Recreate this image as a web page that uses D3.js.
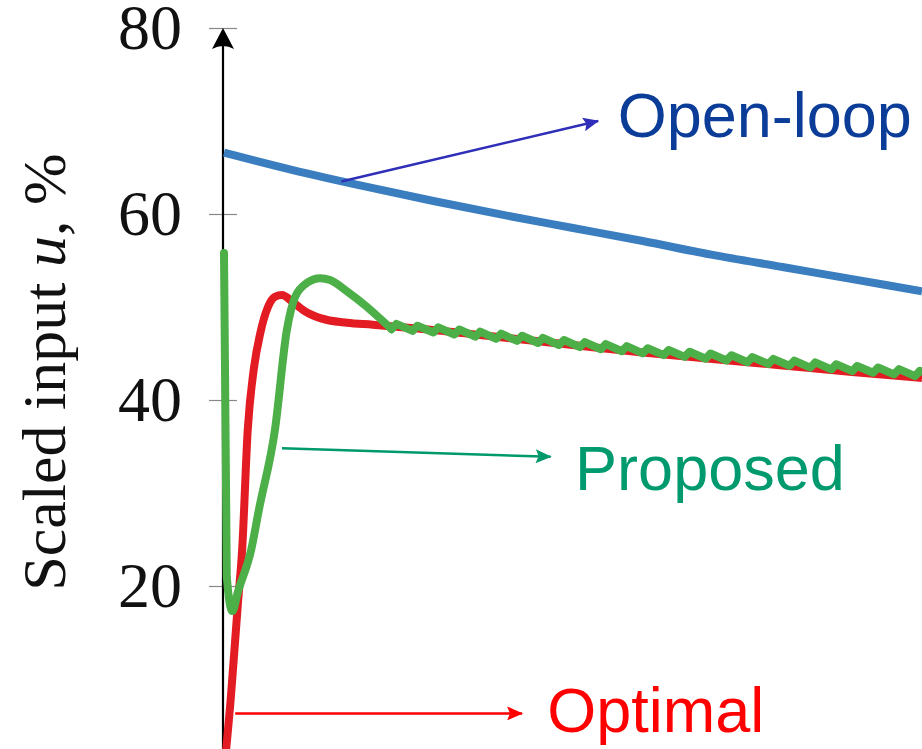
<html>
<head>
  <script src="https://d3js.org/d3.v7.min.js"></script>
  <style>
  body { margin: 0; background: #fff; }
  .tick line { stroke: #888; stroke-width: 1.2px; }
  .tick text { font-family: "Liberation Serif", serif; font-size: 64px; fill: #111; }
  </style>
</head>
<body>
<svg id="chart" width="922" height="749"></svg>
<script>

// time axis is not labelled in the figure, t in 0..100 spans the plot width
const yTicks = [0, 20, 40, 60, 80];

// open-loop input
const openT = [0, 10, 20, 30, 40, 50, 60, 70, 80, 90, 100];
const openU = [66.6, 64.7, 63.0, 61.4, 59.9, 58.5, 57.1, 55.6, 54.3, 53.0, 51.7];

// optimal input
const optT = [0, 1, 2, 2.6, 3.4, 4.3, 5.2, 6.3, 7.3, 8.3, 9.9, 11.9, 13.8, 17.6, 21.3, 30, 40, 50, 60, 70, 80, 90, 100];
const optU = [0, 8.2, 18.2, 23.9, 36.8, 43.5, 47.2, 50.0, 51.1, 51.3, 50.5, 49.4, 48.8, 48.3, 48.1, 47.53, 46.72, 45.91, 45.11, 44.41, 43.71, 43.01, 42.37];

// proposed input, transient part
const propT = [0, 0.4, 1.2, 2, 3.9, 5, 7.3, 9, 10.2, 11.9, 13.8, 15.2, 17.6, 20.5, 22.3, 24];
const propU = [55.8, 21, 17.3, 19.4, 23.9, 28.2, 36.8, 47.5, 51.1, 52.6, 53.1, 52.9, 51.7, 50.0, 48.8, 47.62];

// proposed input, sampled sawtooth after settling
const sawT = [24, 24.7, 27, 27.7, 30, 30.7, 33, 33.7, 36, 36.7, 39, 39.7, 42, 42.7, 45, 45.7, 48, 48.7,
  51, 51.7, 54, 54.7, 57, 57.7, 60, 60.7, 63, 63.7, 66, 66.7, 69, 69.7, 72, 72.7, 75, 75.7,
  78, 78.7, 81, 81.7, 84, 84.7, 87, 87.7, 90, 90.7, 93, 93.7, 96, 96.7, 99, 99.7, 102];
const sawU = [47.62, 48.18, 47.43, 47.99, 47.26, 47.81, 47.04, 47.58, 46.81, 47.36, 46.58, 47.13, 46.36, 46.91, 46.13, 46.68, 45.91, 46.45,
  45.69, 46.23, 45.46, 46.01, 45.24, 45.79, 45.02, 45.57, 44.83, 45.38, 44.64, 45.19, 44.44, 45.00, 44.25, 44.81, 44.06, 44.61,
  43.87, 44.42, 43.68, 44.23, 43.48, 44.04, 43.29, 43.85, 43.10, 43.66, 42.93, 43.49, 42.76, 43.32, 42.57, 43.14, 42.5];

// annotations: label, arrow start (on curve) and arrow end, in data units
const labels = ["Open-loop", "Proposed", "Optimal"];
const labelT = [56.4, 50.3, 46.3];
const labelU = [68.3, 30.3, 4.3];
const arrowFrom = [[16.8, 63.5], [8.3, 34.8], [1.6, 6.3]];
const arrowTo = [[53.6, 70.0], [46.8, 33.9], [42.7, 6.3]];

const svg = d3.select("#chart");
const x = d3.scaleLinear().domain([0, 100]).range([224, 922]);
const y = d3.scaleLinear().domain([0, 80]).range([772, 28]);
const axisX = 223;

// y axis
const yAxis = svg.append("g")
  .attr("transform", "translate(" + axisX + ",0)")
  .call(d3.axisLeft(y).tickValues(yTicks).tickSize(14).tickPadding(27));
yAxis.select(".domain").remove();
yAxis.selectAll(".tick").append("line").attr("x2", 14);

svg.append("line")
  .attr("x1", axisX).attr("x2", axisX)
  .attr("y1", 760).attr("y2", y(80) + 8)
  .attr("stroke", "#000").attr("stroke-width", 2.2);
svg.append("path")
  .attr("d", "M" + axisX + "," + y(80) + " l-11,21 q11,-6 22,0 z")
  .attr("fill", "#000");

svg.append("text")
  .attr("transform", "translate(65,372) rotate(-90)")
  .attr("text-anchor", "middle")
  .style("font-family", "Liberation Serif, serif")
  .style("font-size", "62px")
  .attr("fill", "#111")
  .html('Scaled input <tspan font-style="italic">u</tspan>, %');

// curves
const smooth = d3.line()
  .x(d => x(d[0]))
  .y(d => y(d[1]))
  .curve(d3.curveMonotoneX);
const straight = d3.line()
  .x(d => x(d[0]))
  .y(d => y(d[1]));

svg.append("path")
  .datum(openT.map((t, i) => [t, openU[i]]))
  .attr("d", smooth)
  .attr("fill", "none").attr("stroke", "#3a7ebf").attr("stroke-width", 8);

svg.append("path")
  .datum(optT.map((t, i) => [t, optU[i]]))
  .attr("d", smooth)
  .attr("fill", "none").attr("stroke", "#e31c23").attr("stroke-width", 8)
  .attr("stroke-linejoin", "round");

const green = svg.append("g")
  .attr("fill", "none").attr("stroke", "#4caf48").attr("stroke-width", 8)
  .attr("stroke-linejoin", "round").attr("stroke-linecap", "round");
green.append("path")
  .datum(propT.map((t, i) => [t, propU[i]]))
  .attr("d", smooth);
green.append("path")
  .datum(sawT.map((t, i) => [t, sawU[i]]))
  .attr("d", straight);

// annotation arrows and labels
const textColors = ["#0b3d98", "#009a6e", "#ff0000"];
const arrowColors = ["#2e2eb8", "#00996b", "#ff0000"];

const defs = svg.append("defs");
arrowColors.forEach((c, i) => {
  defs.append("marker")
    .attr("id", "head" + i)
    .attr("markerUnits", "userSpaceOnUse")
    .attr("viewBox", "0 0 16 14")
    .attr("refX", 15).attr("refY", 7)
    .attr("markerWidth", 16).attr("markerHeight", 14)
    .attr("orient", "auto")
    .append("path")
    .attr("d", "M0,0 L16,7 L0,14 L3,7 z")
    .attr("fill", c);
});

labels.forEach((lab, i) => {
  svg.append("line")
    .attr("x1", x(arrowFrom[i][0])).attr("y1", y(arrowFrom[i][1]))
    .attr("x2", x(arrowTo[i][0])).attr("y2", y(arrowTo[i][1]))
    .attr("stroke", arrowColors[i]).attr("stroke-width", 2.5)
    .attr("marker-end", "url(#head" + i + ")");
  svg.append("text")
    .attr("x", x(labelT[i])).attr("y", y(labelU[i]))
    .style("font-family", "Liberation Sans, Arial, sans-serif")
    .style("font-size", "63px")
    .attr("fill", textColors[i])
    .text(lab);
});

</script>
</body>
</html>
